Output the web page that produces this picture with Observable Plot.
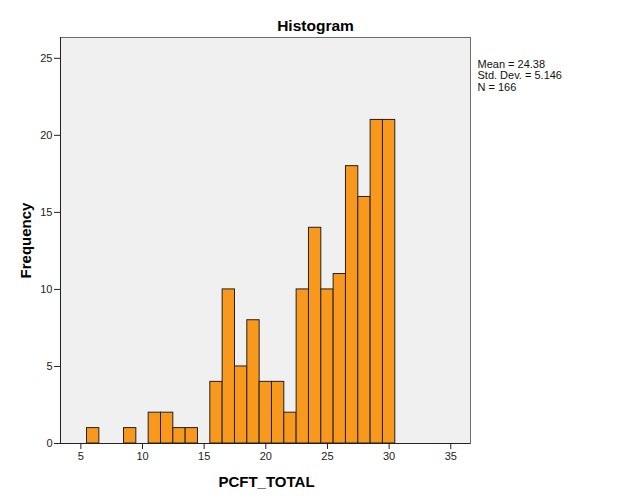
<!DOCTYPE html>
<html><head><meta charset="utf-8">
<script src="https://cdn.jsdelivr.net/npm/d3@7"></script>
<script src="https://cdn.jsdelivr.net/npm/@observablehq/plot@0.6"></script>
<style>
body{margin:0;background:#fff;font-family:"Liberation Sans",Arial,sans-serif}
#chart svg{display:block}
</style>
</head><body><div id="chart"></div>
<script>
const binCenters = [6, 9, 11, 12, 13, 14, 16, 17, 18, 19, 20, 21, 22, 23, 24, 25, 26, 27, 28, 29, 30];
const frequencies = [1, 1, 2, 2, 1, 1, 4, 10, 5, 8, 4, 4, 2, 10, 14, 10, 11, 18, 16, 21, 21];
const binWidth = 1;
const xTicks = [5, 10, 15, 20, 25, 30, 35];
const yTicks = [0, 5, 10, 15, 20, 25];
const statsLines = ["Mean = 24.38", "Std. Dev. = 5.146", "N = 166"];
const chartTitle = "Histogram";
const xLabel = "PCFT_TOTAL";
const yLabel = "Frequency";

const bins = binCenters.map((c, i) => ({x1: c - binWidth / 2, x2: c + binWidth / 2, count: frequencies[i]}));

const font = "'Liberation Sans', Arial, sans-serif";
const chart = Plot.plot({
  width: 629,
  height: 504,
  marginLeft: 60,
  marginRight: 159,
  marginTop: 37,
  marginBottom: 61,
  style: {fontFamily: font, fontSize: "11px", color: "#222", background: "#fff"},
  x: {domain: [3.35, 36.6]},
  y: {domain: [0, 26.35]},
  marks: [
    Plot.frame({fill: "#f0f0f0", stroke: null}),
    Plot.rectY(bins, {x1: "x1", x2: "x2", y: "count", fill: "#f8981d", stroke: "#222", strokeWidth: 1}),
    Plot.frame({stroke: "#6b6b6b", strokeWidth: 1}),
    Plot.ruleX([3.35], {stroke: "#222"}),
    Plot.ruleY([0], {stroke: "#222"}),
    Plot.axisX(xTicks, {tickSize: 6, tickPadding: 3, label: null, fontSize: 11, stroke: "#222"}),
    Plot.axisY(yTicks, {tickSize: 6, tickPadding: 2, label: null, fontSize: 11, stroke: "#222"}),
    Plot.text([chartTitle], {frameAnchor: "top", textAnchor: "middle", lineAnchor: "bottom", dx: 50, dy: -7, fontSize: 15.5, fontWeight: "bold", fill: "#000"}),
    Plot.text([xLabel], {frameAnchor: "bottom", textAnchor: "middle", lineAnchor: "bottom", dx: 1, dy: 43, fontSize: 15, fontWeight: "bold", fill: "#000"}),
    Plot.text([yLabel], {frameAnchor: "left", textAnchor: "middle", lineAnchor: "bottom", rotate: -90, dx: -30, dy: 0, fontSize: 15, fontWeight: "bold", fill: "#000"}),
    Plot.text([statsLines.join("\n")], {frameAnchor: "top-right", textAnchor: "start", lineAnchor: "top", lineHeight: 1.05, dx: 7, dy: 22, fontSize: 11, fill: "#111"})
  ]
});
document.getElementById("chart").append(chart);
</script>
</body></html>
